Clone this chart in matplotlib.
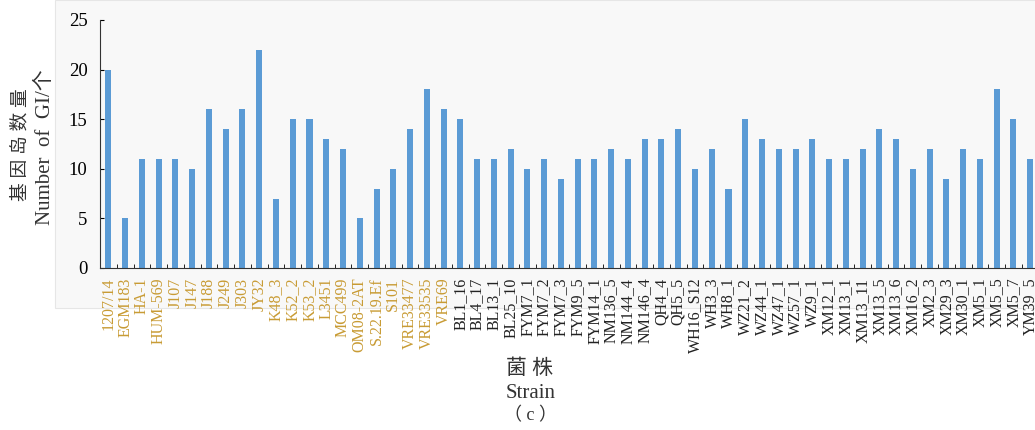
import matplotlib.pyplot as plt
import matplotlib.patches as patches
import numpy as np

# 菌株名称 (前21个为橙色标注)
strains_ref = ['1207/14', 'EGM183', 'HA-1', 'HUM-569', 'J107', 'J147', 'J188', 'J249',
               'J303', 'JY32', 'K48_3', 'K52_2', 'K53_2', 'L3451', 'MCC499', 'OM08-2AT',
               'S.22.19.Ef', 'S101', 'VRE33477', 'VRE33535', 'VRE69']
gi_ref = [20, 5, 11, 11, 11, 10, 16, 14, 16, 22, 7, 15, 15, 13, 12, 5, 8, 10, 14, 18, 16]

strains_new = ['BL1_16', 'BL4_17', 'BL13_1', 'BL25_10', 'FYM7_1', 'FYM7_2', 'FYM7_3',
               'FYM9_5', 'FYM14_1', 'NM136_5', 'NM144_4', 'NM146_4', 'QH4_4', 'QH5_5',
               'WH16_S12', 'WH3_3', 'WH8_1', 'WZ21_2', 'WZ44_1', 'WZ47_1', 'WZ57_1',
               'WZ9_1', 'XM12_1', 'XM13_1', 'XM13_11', 'XM13_5', 'XM13_6', 'XM16_2',
               'XM2_3', 'XM29_3', 'XM30_1', 'XM5_1', 'XM5_5', 'XM5_7', 'YM39_5']
gi_new = [15, 11, 11, 12, 10, 11, 9, 11, 11, 12, 11, 13, 13, 14, 10, 12, 8, 15, 13, 12,
          12, 13, 11, 11, 12, 14, 13, 10, 12, 9, 12, 11, 18, 15, 11]

strains = strains_ref + strains_new
values = gi_ref + gi_new
x = np.arange(len(strains))

plt.rcParams['font.family'] = ['Liberation Serif', 'Noto Sans CJK SC']

fig = plt.figure(figsize=(10.35, 4.3), dpi=100)
# 浅灰色背景区域
bg = patches.Rectangle((55 / 1035, 1 - 308 / 430), 1, 308 / 430,
                       transform=fig.transFigure, facecolor='#f8f8f8',
                       edgecolor='#e6e6e6', linewidth=0.8, zorder=-10)
fig.patches.append(bg)

ax = fig.add_axes([100 / 1035, 1 - 268 / 430, 56 * 16.76 / 1035, 248 / 430])
ax.set_facecolor('none')
ax.bar(x, values, width=0.36, color='#5b9bd5', zorder=2)

ax.set_xlim(-0.5, len(strains) - 0.5)
ax.set_ylim(0, 25)
ax.set_yticks([0, 5, 10, 15, 20, 25])
ax.tick_params(axis='y', direction='in', length=3, labelsize=13.5, pad=9)

ax.set_xticks(x)
ax.set_xticklabels(strains, rotation=90, fontsize=11.5)
ax.set_xticks(x[:-1] + 0.5, minor=True)
ax.tick_params(axis='x', which='major', length=0, pad=7)
ax.tick_params(axis='x', which='minor', direction='in', length=3)
for i, lbl in enumerate(ax.get_xticklabels()):
    lbl.set_color('#c89b34' if i < len(strains_ref) else '#222222')

for s in ['top', 'right']:
    ax.spines[s].set_visible(False)
ax.spines['left'].set_color('#333333')
ax.spines['bottom'].set_color('#333333')

fig.text(21 / 1035, 1 - 145 / 430, '基 因 岛 数 量', rotation=90, ha='center', va='center',
         fontsize=13.5, color='#333333')
fig.text(45 / 1035, 1 - 147 / 430, 'Number  of  GI/个', rotation=90, ha='center',
         va='center', fontsize=15, color='#333333')

fig.text(530 / 1035, 1 - 369 / 430, '菌 株', ha='center', va='center', fontsize=15,
         color='#333333')
fig.text(531 / 1035, 1 - 393 / 430, 'Strain', ha='center', va='center', fontsize=15,
         color='#333333')
fig.text(531 / 1035, 1 - 416 / 430, '（ c ）', ha='center', va='center', fontsize=13,
         color='#333333')

plt.savefig('out.png', dpi=100)
plt.close()
